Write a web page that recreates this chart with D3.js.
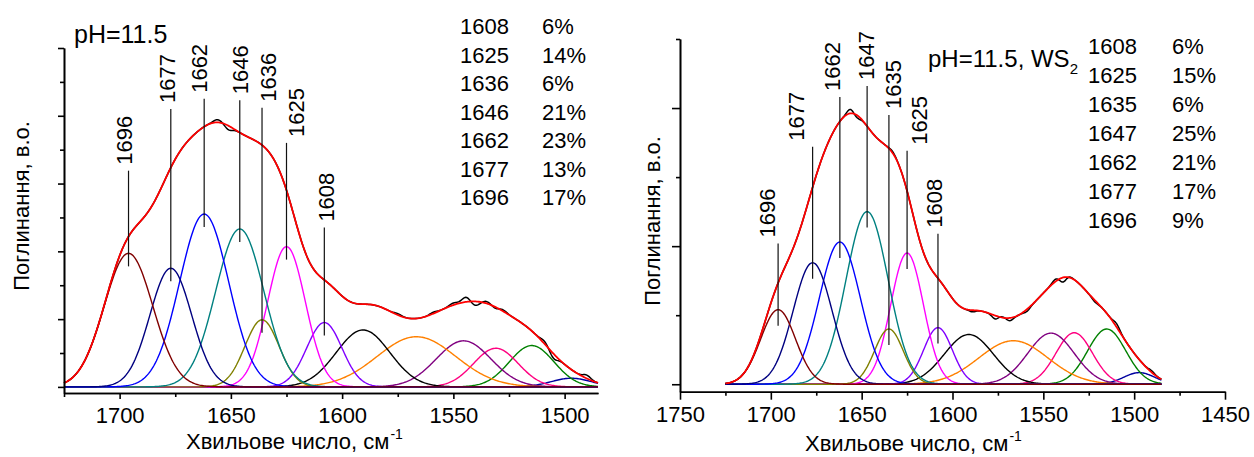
<!DOCTYPE html>
<html>
<head>
<meta charset="utf-8">
<script src="https://cdnjs.cloudflare.com/ajax/libs/d3/7.8.5/d3.min.js"></script>
<style>
  body { margin: 0; background: #fff; }
  text { font-family: Arial, "Liberation Sans", sans-serif; fill: #000; }
</style>
</head>
<body>
<svg id="chart" width="1254" height="457"></svg>
<script>
// band order: 1696, 1677, 1662, 1646, 1636, 1625, 1608, then the amide II bands
const BAND_COLORS = ["#800000", "#000080", "#0000FF", "#008080", "#808000", "#FF00FF",
  "#8000FF", "#000000", "#FF8000", "#800080", "#FF0080", "#008000", "#0000A0"];

// ---- pH=11.5 ----
const leftCenters = [1696, 1677, 1662, 1646, 1636, 1625, 1608, 1590.6, 1566.6, 1545.4, 1530.9, 1514.8, 1497];
const leftHeights = [1.97, 1.75, 2.55, 2.33, 0.99, 2.07, 0.95, 0.84, 0.74, 0.68, 0.57, 0.61, 0.128];
const leftFwhm = [25.7, 22.1, 26.0, 25.5, 18.1, 20.0, 18.6, 28.3, 41.7, 29.0, 23.6, 23.6, 21.2];
const leftLabels = ["1696", "1677", "1662", "1646", "1636", "1625", "1608"];
const leftLabelWn = [1698, 1678.7, 1664.2, 1645.7, 1633.3, 1620.7, 1607.4];
const leftLabelTop = [3.19, 4.10, 4.25, 4.23, 4.12, 3.60, 2.35];
const leftTablePeak = ["1608", "1625", "1636", "1646", "1662", "1677", "1696"];
const leftTablePct = ["6%", "14%", "6%", "21%", "23%", "13%", "17%"];
// experimental spectrum: small deviations from the fit
const leftWigWn = [1656, 1651, 1575, 1559, 1550, 1544.5, 1540, 1535, 1531, 1528, 1509, 1505, 1490];
const leftWigAmp = [0.04, -0.06, 0.02, 0.02, 0.03, 0.07, -0.06, 0.03, -0.025, 0.025, 0.04, -0.07, 0.05];
const leftXMajor = [1700, 1650, 1600, 1550, 1500];
const leftXMinor = [1725, 1675, 1625, 1575, 1525];
const leftYMajor = [0, 1, 2, 3, 4, 5];
const leftYMinor = [0.5, 1.5, 2.5, 3.5, 4.5];

// ---- pH=11.5, WS2 ----
const rightCenters = [1696, 1677, 1662, 1647, 1635, 1625, 1608, 1591, 1566.5, 1545.8, 1533, 1515.1, 1497.2];
const rightHeights = [0.54, 0.88, 1.03, 1.25, 0.40, 0.95, 0.41, 0.36, 0.315, 0.37, 0.373, 0.40, 0.084];
const rightFwhm = [22.6, 25.2, 26.6, 27.3, 18.6, 21.2, 18.6, 31.8, 44.7, 30.1, 23.6, 24.7, 20.0];
const rightLabels = ["1696", "1677", "1662", "1647", "1635", "1625", "1608"];
const rightLabelWn = [1702.1, 1685.9, 1666.3, 1647.6, 1632.8, 1618.4, 1610.2];
const rightLabelTop = [1.02, 1.72, 2.08, 2.16, 1.95, 1.69, 1.09];
const rightTablePeak = ["1608", "1625", "1635", "1647", "1662", "1677", "1696"];
const rightTablePct = ["6%", "15%", "6%", "25%", "21%", "17%", "9%"];
const rightWigWn = [1656.4, 1652.4, 1633, 1589, 1576.6, 1572.9, 1568.4, 1559, 1543.6, 1539, 1536, 1521.6, 1509.6, 1490.4];
const rightWigAmp = [0.03, -0.02, 0.01, -0.012, -0.025, 0.008, -0.02, -0.015, 0.018, -0.035, 0.008, -0.012, 0.025, 0.012];
const rightXMajor = [1750, 1700, 1650, 1600, 1550, 1500, 1450];
const rightXMinor = [1725, 1675, 1625, 1575, 1525, 1475];
const rightYMajor = [0, 1, 2];
const rightYMinor = [0.5, 1.5, 2.5];

const SPAN = [1725, 1485];
const WIG_SIGMA = 1.7;

const svg = d3.select("#chart");

function drawPanel(p) {
  const x = d3.scaleLinear().domain(p.xDomain).range([p.left, p.right]);
  const y = d3.scaleLinear().domain(p.yDomain).range([p.bottom, p.top]);
  const g = svg.append("g");

  const sig = p.fwhm.map(f => f / 2.3548);
  const grid = d3.range(SPAN[1], SPAN[0] + 0.001, 0.5);
  const band = (i, w) => p.heights[i] * Math.exp(-((w - p.centers[i]) ** 2) / (2 * sig[i] ** 2));
  const fit = w => d3.sum(p.centers, (c, i) => band(i, w));
  const wig = w => d3.sum(p.wigWn, (c, i) => p.wigAmp[i] * Math.exp(-((w - c) ** 2) / (2 * WIG_SIGMA ** 2)));

  const line = d3.line().x(d => x(d[0])).y(d => y(d[1]));

  // gaussian components
  g.selectAll("path.band")
    .data(d3.range(p.centers.length).reverse())
    .join("path")
    .attr("class", "band")
    .attr("d", i => line(grid.map(w => [w, band(i, w)])))
    .attr("fill", "none")
    .attr("stroke", i => BAND_COLORS[i])
    .attr("stroke-width", 1.4);

  // experimental + fit
  g.append("path")
    .attr("d", line(grid.map(w => [w, fit(w) + wig(w)])))
    .attr("fill", "none").attr("stroke", "#000").attr("stroke-width", 1.5);
  g.append("path")
    .attr("d", line(grid.map(w => [w, fit(w)])))
    .attr("fill", "none").attr("stroke", "#FF0000").attr("stroke-width", 1.8);

  // peak markers
  const marks = p.labels.map((t, i) => ({ t, i }));
  g.selectAll("line.peak")
    .data(marks)
    .join("line")
    .attr("class", "peak")
    .attr("x1", d => x(p.centers[d.i])).attr("x2", d => x(p.centers[d.i]))
    .attr("y1", d => y(p.labelTop[d.i]))
    .attr("y2", d => y(p.heights[d.i]) + p.overshoot)
    .attr("stroke", "#111").attr("stroke-width", 1.2);
  g.selectAll("text.peak")
    .data(marks)
    .join("text")
    .attr("class", "peak")
    .attr("font-size", 22)
    .attr("transform", d => `translate(${x(p.labelWn[d.i]) + 8},${y(p.labelTop[d.i]) - 6}) rotate(-90)`)
    .text(d => d.t);

  // axes
  const fixAxis = a => {
    a.attr("font-size", 22);
    a.selectAll("path, line").attr("stroke-width", 1.6);
  };
  g.append("g").attr("transform", `translate(0,${p.bottom})`)
    .call(d3.axisBottom(x).tickValues(p.xMajor).tickSize(p.major).tickSizeOuter(0)
      .tickPadding(p.xPad).tickFormat(d3.format("d")))
    .call(fixAxis);
  g.append("g").attr("transform", `translate(0,${p.bottom})`)
    .call(d3.axisBottom(x).tickValues(p.xMinor).tickSize(4).tickSizeOuter(0).tickFormat(""))
    .call(fixAxis);
  g.append("g").attr("transform", `translate(${p.left},0)`)
    .call(d3.axisLeft(y).tickValues(p.yMajor).tickSize(p.major).tickSizeOuter(0).tickFormat(""))
    .call(fixAxis);
  g.append("g").attr("transform", `translate(${p.left},0)`)
    .call(d3.axisLeft(y).tickValues(p.yMinor).tickSize(4).tickSizeOuter(0).tickFormat(""))
    .call(fixAxis);

  // axis titles
  const xt = g.append("text").attr("x", p.xTitle[0]).attr("y", p.xTitle[1]).attr("font-size", 22);
  xt.append("tspan").text("Хвильове число, см");
  xt.append("tspan").attr("dy", -10).attr("dx", 1).attr("font-size", 14).text("-1");
  g.append("text")
    .attr("transform", `translate(${p.yTitle[0]},${p.yTitle[1]}) rotate(-90)`)
    .attr("text-anchor", "middle").attr("font-size", 22)
    .text("Поглинання, в.о.");

  // sample name
  const nm = g.append("text").attr("x", p.name[0]).attr("y", p.name[1]).attr("font-size", p.nameSize);
  nm.append("tspan").text(p.nameText);
  if (p.nameSub) nm.append("tspan").attr("dy", 7).attr("font-size", 15).text(p.nameSub);

  // percentage table
  const rows = g.selectAll("g.row")
    .data(p.tablePeak.map((k, i) => ({ k, v: p.tablePct[i], i })))
    .join("g")
    .attr("class", "row")
    .attr("transform", d => `translate(0,${p.table[2] + d.i * p.table[3]})`);
  rows.append("text").attr("x", p.table[0]).attr("font-size", 22).text(d => d.k);
  rows.append("text").attr("x", p.table[1]).attr("font-size", 22).text(d => d.v);
}

drawPanel({
  left: 64, right: 598, bottom: 393, top: 48,
  xDomain: [1725, 1485], yDomain: [-0.09, 5],
  centers: leftCenters, heights: leftHeights, fwhm: leftFwhm,
  labels: leftLabels, labelWn: leftLabelWn, labelTop: leftLabelTop, overshoot: 13,
  wigWn: leftWigWn, wigAmp: leftWigAmp,
  xMajor: leftXMajor, xMinor: leftXMinor, yMajor: leftYMajor, yMinor: leftYMinor,
  major: 6, xPad: 8,
  xTitle: [186, 449], yTitle: [29, 206],
  name: [74, 43], nameText: "pH=11.5", nameSize: 25,
  tablePeak: leftTablePeak, tablePct: leftTablePct, table: [460, 542, 34.3, 28.45]
});

drawPanel({
  left: 680, right: 1225, bottom: 391.7, top: 39,
  xDomain: [1750, 1450], yDomain: [-0.054, 2.5],
  centers: rightCenters, heights: rightHeights, fwhm: rightFwhm,
  labels: rightLabels, labelWn: rightLabelWn, labelTop: rightLabelTop, overshoot: 16,
  wigWn: rightWigWn, wigAmp: rightWigAmp,
  xMajor: rightXMajor, xMinor: rightXMinor, yMajor: rightYMajor, yMinor: rightYMinor,
  major: 8, xPad: 7,
  xTitle: [805, 451], yTitle: [660, 221],
  name: [928, 67], nameText: "pH=11.5, WS", nameSub: "2", nameSize: 24,
  tablePeak: rightTablePeak, tablePct: rightTablePct, table: [1088, 1172, 54, 29]
});
</script>
</body>
</html>
